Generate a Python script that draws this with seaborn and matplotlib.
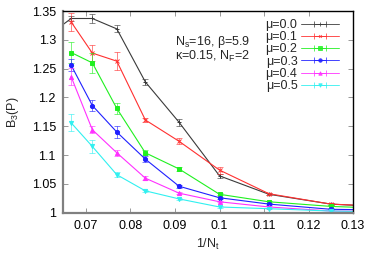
import numpy as np
import pandas as pd
import matplotlib
matplotlib.use("Agg")
import matplotlib.pyplot as plt
import seaborn as sns

# ---------------------------------------------------
# data (1/N_t on x, B3(P) on y)
# ---------------------------------------------------
nt = [16, 15, 14, 13, 12, 11, 10, 9, 8, 7]
mu_labels = ["μ=0.0", "μ=0.1", "μ=0.2", "μ=0.3", "μ=0.4", "μ=0.5"]

b3_mu00 = [1.313, 1.337, 1.337, 1.319, 1.227, 1.157, 1.064, 1.032, 1.015, 1.008]
b3_mu01 = [np.nan, 1.331, 1.277, 1.263, 1.161, 1.124, 1.074, 1.033, 1.015, 1.009]
b3_mu02 = [np.nan, 1.278, 1.260, 1.181, 1.104, 1.076, 1.032, 1.019, 1.011, 1.006]
b3_mu03 = [np.nan, 1.256, 1.186, 1.140, 1.093, 1.046, 1.026, 1.015, 1.006, 1.004]
b3_mu04 = [np.nan, 1.236, 1.144, 1.104, 1.060, 1.034, 1.019, 1.010, 1.003, 1.002]
b3_mu05 = [np.nan, 1.156, 1.115, 1.066, 1.038, 1.024, 1.010, 1.007, 1.003, 1.001]

err_mu00 = [0.008, 0.005, 0.007, 0.006, 0.005, 0.006, 0.003, 0.002, 0.002, 0.002]
err_mu01 = [0.0, 0.016, 0.014, 0.016, 0.004, 0.005, 0.006, 0.002, 0.002, 0.002]
err_mu02 = [0.0, 0.019, 0.017, 0.010, 0.004, 0.003, 0.002, 0.002, 0.002, 0.001]
err_mu03 = [0.0, 0.010, 0.010, 0.010, 0.005, 0.003, 0.002, 0.002, 0.001, 0.001]
err_mu04 = [0.0, 0.015, 0.006, 0.005, 0.003, 0.002, 0.001, 0.001, 0.001, 0.001]
err_mu05 = [0.0, 0.015, 0.012, 0.004, 0.002, 0.002, 0.001, 0.001, 0.001, 0.001]

x_ticks = [0.07, 0.08, 0.09, 0.1, 0.11, 0.12, 0.13]
y_ticks = [1, 1.05, 1.1, 1.15, 1.2, 1.25, 1.3, 1.35]

values = [b3_mu00, b3_mu01, b3_mu02, b3_mu03, b3_mu04, b3_mu05]
errors = [err_mu00, err_mu01, err_mu02, err_mu03, err_mu04, err_mu05]

colors = ["#3a3a3a", "#ff3030", "#20f020", "#2020ff", "#ff30ff", "#30f0f0"]
markers = ["+", "x", "s", "o", "^", "v"]
msizes = [3, 2.5, 3, 3, 3, 3]

rows = []
for lab, vals, errs in zip(mu_labels, values, errors):
    for n, v, e in zip(nt, vals, errs):
        rows.append({"x": 1.0 / n, "B3": v, "err": e, "mu": lab})
df = pd.DataFrame(rows)

sns.set_style("ticks")
plt.rcParams["font.family"] = ["Liberation Sans", "DejaVu Sans"]
plt.rcParams["mathtext.fontset"] = "custom"
plt.rcParams["mathtext.rm"] = "Liberation Sans"
plt.rcParams["mathtext.it"] = "Liberation Sans"

fig = plt.figure(figsize=(3.74, 2.62), dpi=100)
ax = fig.add_axes([0.168, 0.188, 0.776, 0.770])

for i, lab in enumerate(mu_labels):
    sub = df[df["mu"] == lab].dropna()
    sns.lineplot(data=sub, x="x", y="B3", ax=ax, color=colors[i], lw=0.8,
                 marker=markers[i], markersize=msizes[i], markeredgewidth=0.7,
                 markeredgecolor=colors[i], sort=False, legend=False)
    ax.errorbar(sub["x"], sub["B3"], yerr=sub["err"], fmt="none",
                ecolor=colors[i], elinewidth=0.6, capsize=2.0, capthick=0.6, alpha=0.7)

# gnuplot-like legend: horizontal sample with end caps
handles = []
for i, lab in enumerate(mu_labels):
    h = ax.errorbar([np.nan], [np.nan], xerr=[1.0], color=colors[i], lw=0.7,
                    marker=markers[i], markersize=msizes[i] - 0.5, capsize=2.0,
                    elinewidth=0.7, markeredgewidth=0.6, alpha=0.85, label=lab)
    handles.append(h)
leg = ax.legend(handles=handles, loc="upper right", frameon=False, fontsize=9,
                markerfirst=False, handlelength=3.0, handletextpad=0.3,
                labelspacing=0.02, borderaxespad=0.4, bbox_to_anchor=(0.985, 1.01))

ax.text(0.386, 0.885, "N$_s$=16, β=5.9\nκ=0.15, N$_F$=2", transform=ax.transAxes,
        fontsize=9, va="top", ha="left", linespacing=0.85)

ax.set_xlim(0.0648, 0.13)
ax.set_ylim(1, 1.35)
ax.set_xticks(x_ticks)
ax.set_xticklabels(["%g" % t for t in x_ticks])
ax.set_yticks(y_ticks)
ax.set_yticklabels(["%g" % t for t in y_ticks])
ax.tick_params(direction="in", top=True, right=True, length=3.5, width=0.6,
               labelsize=9, colors="#888888", labelcolor="black", pad=5)
ax.set_xlabel("1/N$_t$", fontsize=9, labelpad=4)
ax.set_ylabel("B$_3$(P)", fontsize=9, labelpad=8)

for side in ["left", "bottom"]:
    ax.spines[side].set_color("#808080")
    ax.spines[side].set_linewidth(1.6)
for side in ["top", "right"]:
    ax.spines[side].set_color("black")
    ax.spines[side].set_linewidth(1.0)

fig.savefig("out.png", dpi=100)
